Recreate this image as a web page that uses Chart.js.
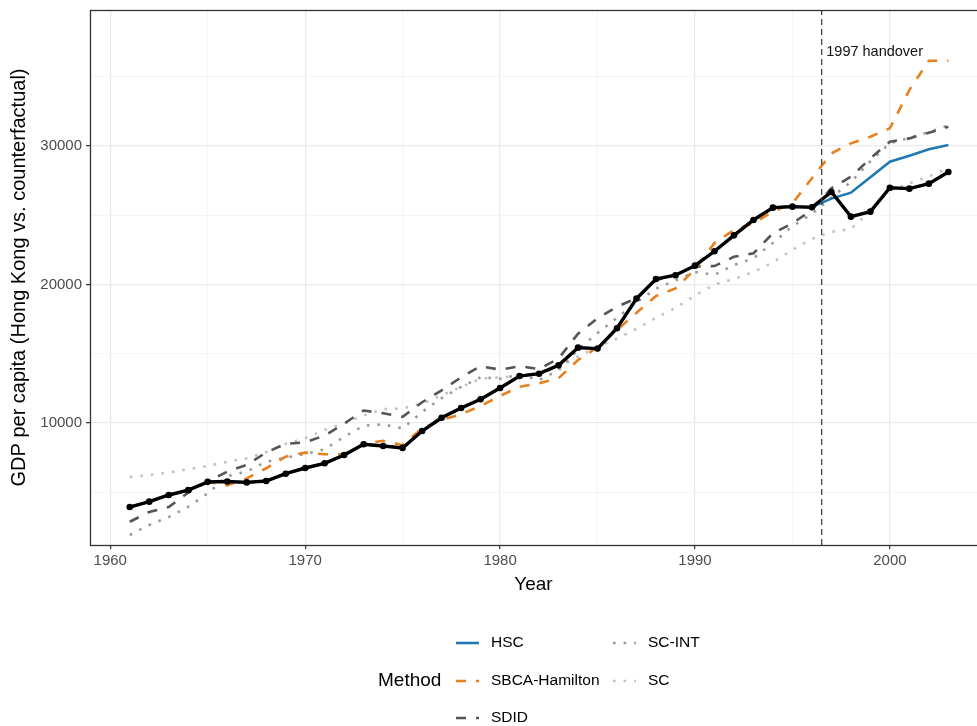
<!DOCTYPE html>
<html>
<head>
<meta charset="utf-8">
<script src="https://cdn.jsdelivr.net/npm/chart.js@4.4.1/dist/chart.umd.min.js"></script>
<style>
html,body{margin:0;padding:0;background:#ffffff;}
#wrap{width:977px;height:726px;position:relative;overflow:hidden;}
#inner{width:1000px;height:726px;}
canvas{display:block;}
</style>
</head>
<body>
<div id="wrap"><div id="inner"><canvas id="c" width="977" height="726"></canvas></div></div>
<script>
// ---------- data ----------
const years = [1961,1962,1963,1964,1965,1966,1967,1968,1969,1970,
               1971,1972,1973,1974,1975,1976,1977,1978,1979,1980,
               1981,1982,1983,1984,1985,1986,1987,1988,1989,1990,
               1991,1992,1993,1994,1995,1996,1997,1998,1999,2000,
               2001,2002,2003];

const hongKong = [3930,4320,4800,5150,5750,5780,5710,5810,6340,6750,
                  7090,7690,8460,8340,8200,9420,10380,11080,11710,12530,
                  13390,13560,14160,15440,15370,16840,18980,20400,20670,21360,
                  22400,23550,24660,25550,25620,25570,26680,24900,25260,26990,
                  26920,27280,28120];

const hsc = [3930,4320,4800,5150,5750,5780,5710,5810,6340,6750,
             7090,7690,8460,8340,8200,9420,10380,11080,11710,12530,
             13390,13560,14160,15440,15370,16840,18980,20400,20670,21360,
             22400,23550,24660,25550,25620,25600,26200,26630,27750,28870,
             29300,29760,30070];

const sbcaHamilton = [3930,4320,4800,5150,5750,5500,6000,6730,7570,7860,
                      7740,7740,8480,8720,8400,9620,10220,10630,11230,11950,
                      12620,12870,13230,14550,15470,16710,17960,19170,19720,21100,
                      23000,23930,24420,25260,25860,27670,29470,30190,30670,31280,
                      34040,36160,36160];

const sdid = [2870,3580,3930,4980,5760,6490,6970,7870,8500,8600,
              9100,9950,10900,10700,10450,11500,12350,13300,14100,13850,
              14100,13900,14650,16450,17550,18400,19000,20300,20700,21300,
              21330,22000,22250,23700,24420,25380,26950,27780,29100,30310,
              30550,30960,31390];

const scInt = [1910,2640,3200,3950,4920,6150,6500,7200,7500,7750,
               8100,9000,9800,9900,9600,10800,11800,12600,13300,13200,
               13500,13100,13800,15300,16500,17600,18700,19700,20300,20900,
               20700,21400,21900,23000,24200,25100,26300,27400,28900,30200,
               30600,31000,31500];

const sc = [6100,6250,6420,6660,6900,7200,7450,7900,8500,8900,
            9500,9980,10550,11000,11050,11400,12000,12600,13200,13300,
            13400,13600,14000,14800,15500,16100,16800,17600,18300,19200,
            20000,20400,20900,21600,22500,23300,23800,24000,25300,26800,
            27300,27800,28400];

const methods = ['HSC','SBCA-Hamilton','SDID','SC-INT','SC'];
const xTicks = [1960,1965,1970,1975,1980,1985,1990,1995,2000];
const xTickLabels = ['1960','1970','1980','1990','2000'];
const yTicks = [5000,10000,15000,20000,25000,30000,35000];
const yTickLabels = ['10000','20000','30000'];
const handoverYear = 1996.5;
const handoverLabel = '1997 handover';
const handoverLabelValue = 36800;
const xTitle = 'Year';
const yTitle = 'GDP per capita (Hong Kong vs. counterfactual)';
const legendTitle = 'Method';

// ---------- styles ----------
const FONT = '"Liberation Sans", Arial, Helvetica, sans-serif';
Chart.defaults.font.family = FONT;
const X_MIN = 1958.96, X_MAX = 2004.47, Y_MIN = 1190, Y_MAX = 39820;
const PAGE_W = 977, PAGE_H = 726;

const styles = {
  'HSC':           {color:'#1F78B4', dash:[],        width:2.6},
  'SBCA-Hamilton': {color:'#E8801F', dash:[10,10],   width:2.6},
  'SDID':          {color:'#555555', dash:[10,10],   width:2.6},
  'SC-INT':        {color:'#9A9A9A', dash:[2.6,8],   width:2.6},
  'SC':            {color:'#C2C2C2', dash:[2.6,8],   width:2.6}
};
const seriesValues = {'HSC':hsc,'SBCA-Hamilton':sbcaHamilton,'SDID':sdid,'SC-INT':scInt,'SC':sc};

function pts(vals){ return years.map((y,i)=>({x:y, y:vals[i]})); }

function makeDatasets(){
  const datasets = [];
  datasets.push({
    label:'vline', data:[{x:handoverYear,y:Y_MIN},{x:handoverYear,y:Y_MAX}],
    borderColor:'#444444', borderWidth:1.3, borderDash:[6,4], pointRadius:0, order:0
  });
  datasets.push({
    label:'Hong Kong', data:pts(hongKong), borderColor:'#000000', borderWidth:3.4,
    pointRadius:3.3, pointBackgroundColor:'#000000', pointBorderWidth:0, order:1
  });
  methods.forEach((m,i)=>{
    const s = styles[m];
    datasets.push({
      label:m, data:pts(seriesValues[m]), borderColor:s.color, borderWidth:s.width,
      borderDash:s.dash, borderCapStyle:'butt', pointRadius:0, order:2+i
    });
  });
  return datasets;
}

const isMajorX = v => xTickLabels.includes(String(v));
const isMajorY = v => yTickLabels.includes(String(v));

// ---------- plugins ----------
const panelPlugin = {
  id:'panel',
  afterDatasetsDraw(chart){
    const {ctx, chartArea:a, scales} = chart;
    ctx.save();
    ctx.font = '14.5px ' + FONT;
    ctx.fillStyle = '#111111';
    ctx.textBaseline = 'middle';
    ctx.textAlign = 'left';
    ctx.fillText(handoverLabel, scales.x.getPixelForValue(handoverYear)+4.6, scales.y.getPixelForValue(handoverLabelValue));
    ctx.strokeStyle = '#333333';
    ctx.lineWidth = 1.3;
    ctx.strokeRect(a.left+0.5, a.top+0.5, a.right - a.left + 10, a.bottom - a.top);
    ctx.restore();
  },
  afterDraw(chart){
    const {ctx} = chart;
    ctx.save();
    ctx.textBaseline = 'middle';
    ctx.textAlign = 'left';
    ctx.fillStyle = '#000000';
    ctx.font = '19px ' + FONT;
    ctx.fillText(legendTitle, 378, 681);
    const rows = [643, 681, 718];
    const cols = [{k:456, t:491}, {k:613, t:648}];
    ctx.font = '15.5px ' + FONT;
    methods.forEach((m,i)=>{
      const col = cols[Math.floor(i/3)], y = rows[i%3];
      const s = styles[m];
      ctx.save();
      ctx.strokeStyle = s.color; ctx.lineWidth = s.width; ctx.setLineDash(s.dash); ctx.lineCap='butt';
      ctx.beginPath(); ctx.moveTo(col.k, y); ctx.lineTo(col.k+23, y); ctx.stroke();
      ctx.restore();
      ctx.fillStyle = '#000000';
      ctx.fillText(m, col.t, y);
    });
    ctx.restore();
  }
};

function build(width){
  const canvas = document.getElementById('c');
  canvas.width = width; canvas.height = PAGE_H;
  canvas.style.width = width + 'px'; canvas.style.height = PAGE_H + 'px';
  return new Chart(canvas, {
    type:'line',
    data:{datasets:makeDatasets()},
    options:{
      responsive:false, maintainAspectRatio:false, animation:false, devicePixelRatio:1,
      layout:{padding:{left:0, right:0, top:10, bottom:126}},
      plugins:{legend:{display:false}, tooltip:{enabled:false}},
      elements:{line:{tension:0}},
      scales:{
        x:{
          type:'linear', min:X_MIN, max:X_MAX,
          afterBuildTicks:s=>{ s.ticks = xTicks.map(v=>({value:v})); },
          afterFit:s=>{ s.height = 55; s.paddingLeft = 0; s.paddingRight = 0; },
          ticks:{autoSkip:false, maxRotation:0, padding:3, color:'#4D4D4D', font:{size:15},
                 callback:v=> isMajorX(v) ? String(v) : ''},
          grid:{
            color:c=> isMajorX(c.tick && c.tick.value) ? '#EBEBEB' : '#F2F2F2',
            lineWidth:c=> isMajorX(c.tick && c.tick.value) ? 1.3 : 0.8,
            tickColor:c=> isMajorX(c.tick && c.tick.value) ? '#333333' : 'rgba(0,0,0,0)',
            tickLength:4, tickWidth:1.2, drawTicks:true
          },
          border:{display:false},
          title:{display:true, text:xTitle, color:'#000000', font:{size:19}, padding:{top:0,bottom:4}}
        },
        y:{
          type:'linear', min:Y_MIN, max:Y_MAX,
          afterBuildTicks:s=>{ s.ticks = yTicks.map(v=>({value:v})); },
          afterFit:s=>{ s.width = 90; s.paddingTop = 0; s.paddingBottom = 0; },
          ticks:{autoSkip:false, padding:4, color:'#4D4D4D', font:{size:15},
                 callback:v=> isMajorY(v) ? String(v) : ''},
          grid:{
            color:c=> isMajorY(c.tick && c.tick.value) ? '#EBEBEB' : '#F2F2F2',
            lineWidth:c=> isMajorY(c.tick && c.tick.value) ? 1.3 : 0.8,
            tickColor:c=> isMajorY(c.tick && c.tick.value) ? '#333333' : 'rgba(0,0,0,0)',
            tickLength:4, tickWidth:1.2, drawTicks:true
          },
          border:{display:false},
          title:{display:true, text:yTitle, color:'#000000', font:{size:20}, padding:{top:7,bottom:0}}
        }
      }
    },
    plugins:[panelPlugin]
  });
}

// The plot panel runs on to the right edge of the page and is cut off there,
// so widen the canvas by whatever the layout keeps free on the right.
let chart = build(PAGE_W);
const extra = Math.round(PAGE_W - chart.chartArea.right);
if (extra > 0) { chart.destroy(); chart = build(PAGE_W + extra); }
</script>
</body>
</html>
